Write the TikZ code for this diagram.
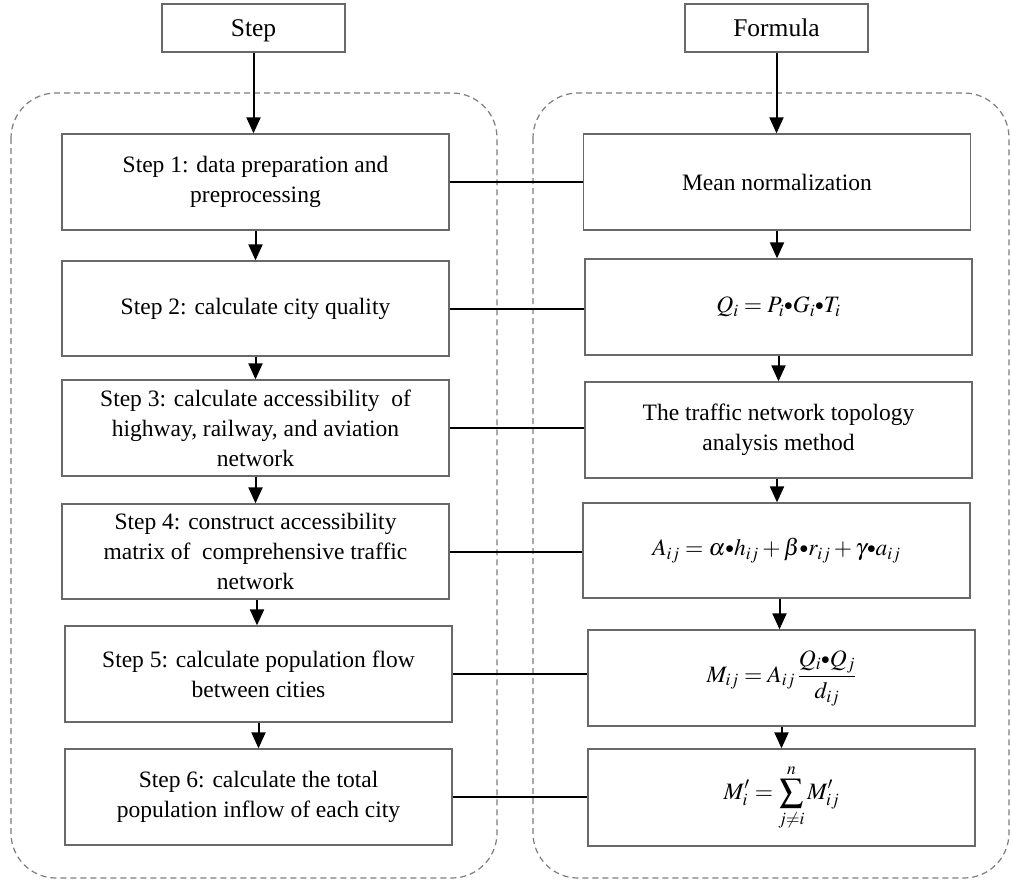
\documentclass[tikz,border=0pt]{standalone}
\usepackage{mathptmx}
\usepackage[no-math]{fontspec}
\setmainfont{Liberation Serif}
\usetikzlibrary{arrows.meta}
\definecolor{boxgray}{RGB}{105,105,105}
\definecolor{dashgray}{RGB}{125,125,125}
\newcommand{\dotop}{{\vcenter{\hbox{$\scriptstyle\bullet$}}}}
\begin{document}
\begin{tikzpicture}[x=1pt,y=-1pt,
  box/.style={draw=boxgray, line width=1.3pt, align=center, inner sep=0pt,
    minimum width=387pt, minimum height=96pt, font=\fontsize{23.5}{30}\selectfont},
  head/.style={draw=boxgray, line width=1.3pt, minimum width=183pt, minimum height=48pt,
    inner sep=0pt, text height=20pt, text depth=4pt, font=\fontsize{25.5}{30}\selectfont},
  frame/.style={draw=dashgray, dash pattern=on 6pt off 4pt, line width=1.2pt, rounded corners=45pt},
  arr/.style={-{Triangle[length=16pt,width=14pt]}, line width=2pt},
  link/.style={line width=2pt}]
\useasboundingbox (0,0) rectangle (1012,884);

% dashed frames
\draw[frame] (11,93) rectangle (497,878);
\draw[frame] (533,93) rectangle (1009,878);

% headers
\node[head] (hs) at (253.5,28) {Step};
\node[head] (hf) at (776.5,28) {Formula};

% left column
\node[box] (s1) at (255.5,182) {Step 1: data preparation and\\preprocessing};
\node[box, minimum height=95pt] (s2) at (255.5,308.5) {Step 2: calculate city quality};
\node[box] (s3) at (255.5,428) {Step 3: calculate accessibility~~of\\highway, railway, and aviation\\network};
\node[box, minimum height=95pt] (s4) at (255.5,551.5) {Step 4: construct accessibility\\matrix of~~comprehensive traffic\\network};
\node[box] (s5) at (258.5,674) {Step 5: calculate population flow\\between cities};
\node[box] (s6) at (258.5,797) {Step 6: calculate the total\\population inflow of each city};

% right column
\node[box] (f1) at (777,182) {Mean normalization};
\node[box] (f2) at (778.5,307) {$Q_i = P_i\dotop G_i\dotop T_i$};
\node[box] (f3) at (778.5,430) {The traffic network topology\\analysis method};
\node[box, minimum height=95pt] (f4) at (776.5,550.5) {$A_{ij} = \alpha\dotop h_{ij} + \beta\dotop r_{ij} + \gamma\dotop a_{ij}$};
\node[box] (f5) at (781.5,678) {$\displaystyle M_{ij} = A_{ij}\,\frac{Q_i\dotop Q_j}{d_{ij}}$};
\node[box, minimum height=97pt] (f6) at (781.5,797.5) {$\displaystyle M'_i = \sum_{j\neq i}^{n} M'_{ij}$};

% arrows
\draw[arr] (hs.south) -- (hs.south |- s1.north);
\draw[arr] (hf.south) -- (hf.south |- f1.north);
\draw[arr] (s1.south) -- (s1.south |- s2.north);
\draw[arr] (s2.south) -- (s2.south |- s3.north);
\draw[arr] (s3.south) -- (s3.south |- s4.north);
\draw[arr] ([xshift=1.5pt]s4.south) -- ([xshift=1.5pt]s4.south |- s5.north);
\draw[arr] (s5.south) -- (s5.south |- s6.north);
\draw[arr] (f1.south) -- (f1.south |- f2.north);
\draw[arr] (f2.south) -- (f2.south |- f3.north);
\draw[arr] ([xshift=-1.5pt]f3.south) -- ([xshift=-1.5pt]f3.south |- f4.north);
\draw[arr] ([xshift=3pt]f4.south) -- ([xshift=3pt]f4.south |- f5.north);
\draw[arr] (f5.south) -- (f5.south |- f6.north);

% links
\draw[link] (s1.east) -- (s1.east -| f1.west);
\draw[link] (s2.east) -- (s2.east -| f2.west);
\draw[link] (s3.east) -- (s3.east -| f3.west);
\draw[link] (s4.east) -- (s4.east -| f4.west);
\draw[link] (s5.east) -- (s5.east -| f5.west);
\draw[link] (s6.east) -- (s6.east -| f6.west);
\end{tikzpicture}
\end{document}
